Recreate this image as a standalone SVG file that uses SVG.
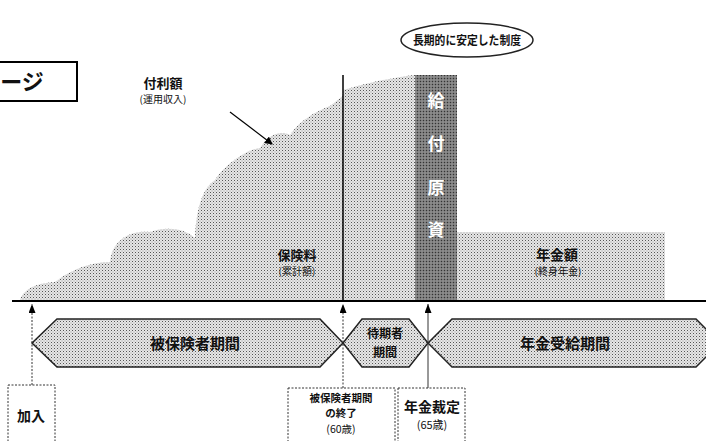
<svg xmlns="http://www.w3.org/2000/svg" width="706" height="441" viewBox="0 0 706 441">
<defs>
<pattern id="dots" width="3" height="3" patternUnits="userSpaceOnUse">
<rect width="3" height="3" fill="#e6e6e6"/>
<rect x="0" y="0" width="1" height="1" fill="#555"/>
<rect x="1.5" y="1.5" width="1" height="1" fill="#9a9a9a"/>
</pattern>
<pattern id="dark" width="3" height="3" patternUnits="userSpaceOnUse">
<rect width="3" height="3" fill="#7a7a7a"/>
<rect x="0" y="0" width="1" height="1" fill="#333"/>
<rect x="1.5" y="1.5" width="1" height="1" fill="#bbb"/>
</pattern>
<marker id="ah" markerWidth="8" markerHeight="8" refX="7" refY="4" orient="auto" markerUnits="userSpaceOnUse">
<path d="M0,0 L8,4 L0,8 Z" fill="#000"/>
</marker>
<marker id="up" markerWidth="7" markerHeight="9" refX="3.5" refY="0" orient="0" markerUnits="userSpaceOnUse">
<path d="M0,9 L3.5,0 L7,9 Z" fill="#000"/>
</marker>
</defs>
<style>
text{font-family:"Noto Sans CJK JP","Noto Sans",sans-serif;fill:#111;text-anchor:middle}
.b{font-weight:bold}
.hex{fill:url(#dots);stroke:#222;stroke-width:1.5}
.dash{fill:#fff;stroke:#333;stroke-width:1;stroke-dasharray:2 1.5}
.lead{stroke:#333;stroke-width:1;stroke-dasharray:2 1.5;fill:none}
</style>
<rect width="706" height="441" fill="#fff"/>

<g id="title-box">
<rect x="-2" y="62" width="79" height="39" fill="#fff" stroke="#000" stroke-width="2"/>
<text x="22" y="90" class="b" font-size="22">ージ</text>
</g>

<g id="stable">
<ellipse cx="467" cy="40" rx="66" ry="17" fill="#fff" stroke="#222" stroke-width="1.5"/>
<text x="467" y="45" class="b" font-size="12" textLength="108" lengthAdjust="spacingAndGlyphs">長期的に安定した制度</text>
</g>

<g id="accumulation">
<path d="M20,301 C22,290 35,283 55,282 C70,270 90,262 110,262 C112,240 130,230 150,232 C165,226 185,228 195,238 C196,215 200,190 215,180 C225,165 245,150 260,148 C268,135 280,130 290,135 C300,120 315,112 330,106 C335,102 340,98 343,96 L343,301 Z" fill="url(#dots)"/>
<path d="M343,301 L343,90 C360,85 380,80 395,78 C405,76 412,75 415,75 L415,301 Z" fill="url(#dots)"/>
<text x="163" y="88" class="b" font-size="13">付利額</text>
<text x="163" y="103" font-size="10">(運用収入)</text>
<text x="297" y="260" class="b" font-size="13">保険料</text>
<text x="297" y="275" font-size="10">(累計額)</text>
</g>

<g id="fund">
<rect x="415" y="75" width="42" height="226" fill="url(#dark)"/>
<text x="436" y="107" class="b" font-size="17" style="fill:#fff">給</text>
<text x="436" y="150" class="b" font-size="17" style="fill:#fff">付</text>
<text x="436" y="194" class="b" font-size="17" style="fill:#fff">原</text>
<text x="436" y="236" class="b" font-size="17" style="fill:#fff">資</text>
</g>

<g id="pension">
<rect x="457" y="232" width="208" height="69" fill="url(#dots)"/>
<text x="557" y="260" class="b" font-size="14">年金額</text>
<text x="558" y="275" font-size="10">(終身年金)</text>
</g>

<g id="period-insured">
<path class="hex" d="M32,343 L57,319 L320,319 L343,343 L320,367 L57,367 Z"/>
<text x="195" y="349" class="b" font-size="15">被保険者期間</text>
</g>
<g id="period-wait">
<path class="hex" d="M343,343 L362,319 L409,319 L428,343 L409,367 L362,367 Z"/>
<text x="385" y="338" class="b" font-size="12">待期者</text>
<text x="385" y="357" class="b" font-size="12">期間</text>
</g>
<g id="period-pension">
<path class="hex" d="M428,343 L452,319 L696,319 L720,343 L696,367 L452,367 Z"/>
<text x="565" y="349" class="b" font-size="15">年金受給期間</text>
</g>

<g id="join">
<rect class="dash" x="8" y="385" width="47" height="60"/>
<text x="31" y="421" class="b" font-size="14">加入</text>
</g>
<g id="end60">
<rect class="dash" x="288" y="388" width="107" height="60"/>
<text x="341" y="402" class="b" font-size="10.5">被保険者期間</text>
<text x="341" y="417" class="b" font-size="10.5">の終了</text>
<text x="341" y="433" font-size="10.5">(60歳)</text>
</g>
<g id="award65">
<rect class="dash" x="398" y="388" width="67" height="60"/>
<text x="432" y="412" class="b" font-size="14">年金裁定</text>
<text x="432" y="429" font-size="11">(65歳)</text>
</g>

<g id="connectors">
<line x1="12" y1="301" x2="706" y2="301" stroke="#000" stroke-width="2"/>
<line x1="343" y1="75" x2="343" y2="301" stroke="#000" stroke-width="1.5"/>
<line x1="230" y1="112" x2="272" y2="144" stroke="#000" stroke-width="1.2" marker-end="url(#ah)"/>
<line class="lead" x1="32" y1="385" x2="32" y2="304" marker-end="url(#up)"/>
<line class="lead" x1="343" y1="388" x2="343" y2="304" marker-end="url(#up)"/>
<line x1="428" y1="388" x2="428" y2="304" stroke="#333" stroke-width="1" marker-end="url(#up)"/>
</g>
</svg>
